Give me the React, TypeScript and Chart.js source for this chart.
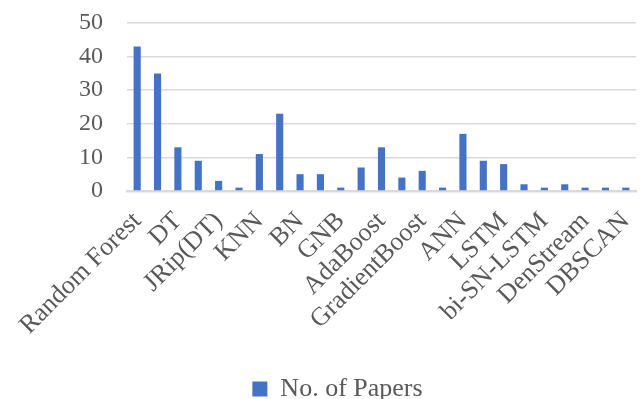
import React, { useEffect, useRef } from "react";
import { Chart, registerables } from "chart.js";

Chart.register(...registerables);

// Methods in order; only every other name is printed on the axis
const methods: string[] = [
  "Random Forest", "SVM", "DT", "LR", "JRip(DT)", "PART", "KNN", "NB",
  "BN", "LDA", "GNB", "XGBoost", "AdaBoost", "Bagging", "GradientBoost", "CatBoost",
  "ANN", "CNN", "LSTM", "GRU", "bi-SN-LSTM", "K-Means", "DenStream", "Isolation Forest", "DBSCAN",
];

const papers: number[] = [
  43, 35, 13, 9, 3, 1, 11, 23, 5, 5, 1, 7, 13, 4, 6, 1, 17, 9, 8, 2, 1, 2, 1, 1, 1,
];

const yTicks: number[] = [0, 10, 20, 30, 40, 50];

const seriesName = "No. of Papers";

const FONT = "'Liberation Serif', 'Times New Roman', serif";
const TEXT = "#595959";
const GRID = "#d9d9d9";
const BAR = "#4472C4";

const PAD_LEFT = 39;
const PLOT_LEFT = 127;
const PLOT_TOP = 23;
const PLOT_BOTTOM = 191;
const PAD_RIGHT = 4;
const PAD_BOTTOM = -13;
const LEGEND_FONT = 26;
const LEGEND_HEIGHT = LEGEND_FONT + 10;

export default function App() {
  const canvasRef = useRef<HTMLCanvasElement | null>(null);

  useEffect(() => {
    document.body.style.margin = "0";
    const canvas = canvasRef.current;
    if (!canvas) return;
    const chart = new Chart(canvas, {
      type: "bar",
      data: {
        labels: methods,
        datasets: [
          {
            label: seriesName,
            data: papers,
            backgroundColor: BAR,
            borderWidth: 0,
            categoryPercentage: 1,
            barPercentage: 0.35,
          },
        ],
      },
      options: {
        animation: false,
        responsive: false,
        maintainAspectRatio: false,
        layout: { padding: { top: 0, right: PAD_RIGHT, left: PAD_LEFT, bottom: PAD_BOTTOM } },
        plugins: {
          tooltip: { enabled: false },
          legend: {
            position: "bottom",
            labels: {
              font: { family: FONT, size: LEGEND_FONT },
              color: TEXT,
              boxWidth: 15,
              boxHeight: 15,
              padding: 0,
            },
          },
        },
        scales: {
          x: {
            afterFit: (axis: any) => {
              axis.height = 399 - PAD_BOTTOM - LEGEND_HEIGHT - PLOT_BOTTOM;
              axis.paddingLeft = 0;
              axis.paddingRight = 0;
            },
            grid: { display: false, drawTicks: false },
            border: { display: true, color: GRID, width: 2.5 },
            ticks: {
              autoSkip: false,
              maxRotation: 45,
              minRotation: 45,
              padding: 15,
              color: TEXT,
              font: { family: FONT, size: 26 },
              callback: (_v: any, i: number) => (i % 2 === 0 ? methods[i] : ""),
            },
          },
          y: {
            min: yTicks[0],
            max: yTicks[yTicks.length - 1],
            afterFit: (axis: any) => {
              axis.width = PLOT_LEFT - PAD_LEFT;
              axis.paddingTop = PLOT_TOP;
              axis.paddingBottom = 0;
            },
            afterBuildTicks: (axis: any) => {
              axis.ticks = yTicks.map((v) => ({ value: v }));
            },
            grid: { color: GRID, lineWidth: 1.5, drawTicks: false },
            border: { display: false },
            ticks: {
              autoSkip: false,
              padding: 24,
              color: TEXT,
              font: { family: FONT, size: 24 },
            },
          },
        },
      },
    });
    return () => chart.destroy();
  }, []);

  return (
    <div style={{ width: 640, height: 399, background: "#fff" }}>
      <canvas ref={canvasRef} width={640} height={399} style={{ display: "block" }} />
    </div>
  );
}
